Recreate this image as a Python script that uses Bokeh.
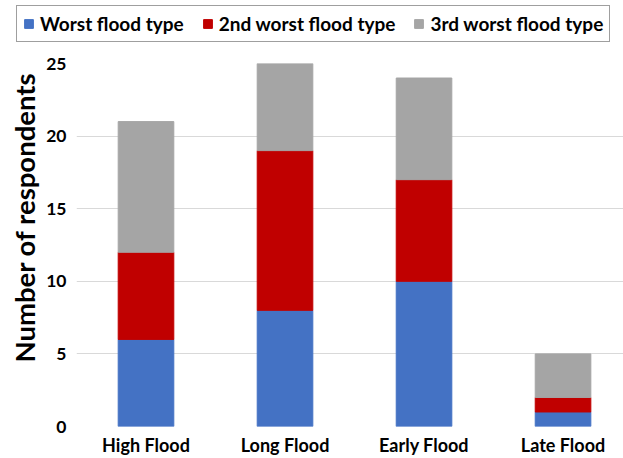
from bokeh.plotting import figure
from bokeh.models import Range1d, FixedTicker, Legend, LegendItem, ColumnDataSource, Title
from bokeh.layouts import column, row
from bokeh.embed import file_html
from bokeh.resources import INLINE

categories = ["High Flood", "Long Flood", "Early Flood", "Late Flood"]
worst = [6, 8, 10, 1]
second = [6, 11, 7, 1]
third = [9, 6, 7, 3]
series_names = ["Worst flood type", "2nd worst flood type", "3rd worst flood type"]
colors = ["#4472C4", "#C00000", "#A5A5A5"]
y_ticks = [0, 5, 10, 15, 20, 25]

FONT = "Lato"

x = list(range(len(categories)))
b1 = [0] * len(x)
t1 = [b + v for b, v in zip(b1, worst)]
t2 = [b + v for b, v in zip(t1, second)]
t3 = [b + v for b, v in zip(t2, third)]

src = ColumnDataSource(dict(x=x, b1=b1, t1=t1, t2=t2, t3=t3))

# ---- main chart ----
p = figure(width=623, height=405, output_backend="svg", toolbar_location=None,
           x_range=Range1d(-0.5, 3.435), y_range=Range1d(0, 25),
           min_border_left=76, min_border_right=0, min_border_top=10, min_border_bottom=28)
p.outline_line_color = None
p.background_fill_color = "white"

bars = [
    p.vbar(x="x", bottom="b1", top="t1", width=0.4, color=colors[0], source=src),
    p.vbar(x="x", bottom="t1", top="t2", width=0.4, color=colors[1], source=src),
    p.vbar(x="x", bottom="t2", top="t3", width=0.4, color=colors[2], source=src),
]

p.xgrid.grid_line_color = None
p.ygrid.grid_line_color = "#D9D9D9"
p.ygrid.grid_line_width = 1
p.ygrid.level = "underlay"

p.yaxis.ticker = FixedTicker(ticks=y_ticks)
p.xaxis.ticker = FixedTicker(ticks=x)
p.xaxis.major_label_overrides = {i: c for i, c in enumerate(categories)}

for ax in (p.xaxis[0], p.yaxis[0]):
    ax.axis_line_color = None
    ax.major_tick_line_color = None
    ax.minor_tick_line_color = None
    ax.major_tick_out = 0
    ax.major_tick_in = 0
    ax.minor_tick_out = 0
    ax.minor_tick_in = 0
    ax.major_label_text_font = FONT
    ax.major_label_text_font_style = "bold"
    ax.major_label_text_color = "#000000"

p.xaxis.major_label_text_font_size = "18px"
p.xaxis.major_label_standoff = 7
p.yaxis.major_label_text_font_size = "17.5px"
p.yaxis.major_label_standoff = 10

ytitle = Title(text="Number of respondents", align="left", offset=64,
               text_font=FONT, text_font_style="bold", text_font_size="27.5px",
               text_color="#000000", standoff=6)
p.add_layout(ytitle, "left")

# ---- legend strip (same data, drawn out of view; only its legend shows) ----
lg = figure(width=623, height=53, output_backend="svg", toolbar_location=None,
            x_range=Range1d(-0.5, 3.5), y_range=Range1d(100, 101),
            x_axis_location=None, y_axis_location=None,
            min_border=0, min_border_left=0, min_border_right=0,
            min_border_top=0, min_border_bottom=0)
lg.grid.visible = False
lg.outline_line_color = None
lr = [
    lg.vbar(x="x", bottom="b1", top="t1", width=0.4, color=colors[0], source=src),
    lg.vbar(x="x", bottom="t1", top="t2", width=0.4, color=colors[1], source=src),
    lg.vbar(x="x", bottom="t2", top="t3", width=0.4, color=colors[2], source=src),
]

legend = Legend(items=[LegendItem(label=n, renderers=[r]) for n, r in zip(series_names, lr)],
                orientation="horizontal", location=(16, 11))
legend.label_text_font = FONT
legend.label_text_font_style = "bold"
legend.label_text_font_size = "19px"
legend.label_text_color = "#000000"
legend.glyph_width = 11
legend.glyph_height = 11
legend.label_standoff = 6
legend.spacing = 18
legend.padding = 6
legend.margin = 0
legend.border_line_color = "#404040"
legend.border_line_width = 1
legend.background_fill_alpha = 1
lg.add_layout(legend, "center")

layout = column(row(lg), row(p), spacing=0)
open("out.html", "w").write(file_html(layout, INLINE))
